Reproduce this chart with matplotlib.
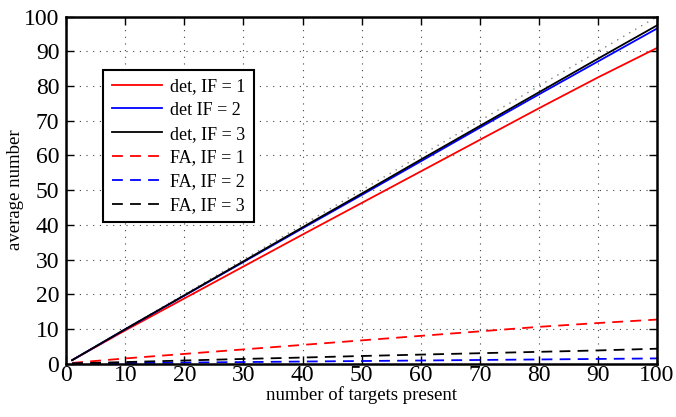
import matplotlib.pyplot as plt

plt.rcParams['font.family'] = ['Liberation Serif', 'DejaVu Serif']

targets = [1, 10, 20, 30, 40, 50, 60, 70, 80, 90, 100]
det_if1 = [1, 9.6, 18.8, 28.0, 37.2, 46.3, 55.4, 64.5, 73.6, 82.5, 91.0]
det_if2 = [1, 9.9, 19.6, 29.3, 39.0, 48.6, 58.3, 68.0, 77.6, 87.1, 96.6]
det_if3 = [1, 9.95, 19.7, 29.5, 39.3, 49.0, 58.8, 68.5, 78.2, 87.9, 97.5]
fa_if1 = [0.2, 1.5, 2.8, 4.1, 5.4, 6.7, 8.0, 9.3, 10.6, 11.7, 12.7]
fa_if2 = [0.0, 0.15, 0.3, 0.45, 0.6, 0.75, 0.9, 1.05, 1.2, 1.35, 1.5]
fa_if3 = [0.05, 0.45, 0.9, 1.35, 1.75, 2.2, 2.6, 3.0, 3.4, 3.8, 4.3]
ref_x = [0, 100]
ref_y = [0, 100]

fig, ax = plt.subplots(figsize=(6.76, 4.17), dpi=100)
fig.subplots_adjust(left=0.098, right=0.972, top=0.96, bottom=0.128)

ax.plot(ref_x, ref_y, color='#808080', linewidth=1.0, dashes=(1, 4))
ax.plot(targets, det_if1, '-', color='#ff0000', linewidth=1.3, label='det, IF = 1')
ax.plot(targets, det_if2, '-', color='#0000ff', linewidth=1.3, label='det IF = 2')
ax.plot(targets, det_if3, '-', color='#000000', linewidth=1.3, label='det, IF = 3')
ax.plot(targets, fa_if1, '--', color='#ff0000', linewidth=1.3, dashes=(6, 4), label='FA, IF = 1')
ax.plot(targets, fa_if2, '--', color='#0000ff', linewidth=1.3, dashes=(6, 4), label='FA, IF = 2')
ax.plot(targets, fa_if3, '--', color='#000000', linewidth=1.3, dashes=(6, 4), label='FA, IF = 3')

ax.set_xlim(0, 100)
ax.set_ylim(0, 100)
ax.set_xticks(range(0, 101, 10))
ax.set_yticks(range(0, 101, 10))
ax.tick_params(direction='in', labelsize=17, length=6, width=1, top=True, right=True)
ax.tick_params(axis='x', pad=1)
ax.tick_params(axis='y', pad=5)
ax.grid(True, color='#444444', linewidth=0.8, dashes=(1, 5))
for s in ax.spines.values():
    s.set_linewidth(1.8)

ax.set_xlabel('number of targets present', fontsize=13.5, labelpad=0)
ax.set_ylabel('average number', fontsize=13.5, labelpad=0)

leg = ax.legend(loc='upper left', bbox_to_anchor=(0.063, 0.847), borderaxespad=0,
                fontsize=13, fancybox=False, edgecolor='black', framealpha=1,
                handlelength=2.8, labelspacing=0.38, borderpad=0.45, handletextpad=0.45)
leg.get_frame().set_linewidth(1.5)

fig.savefig('out.png', dpi=100)
